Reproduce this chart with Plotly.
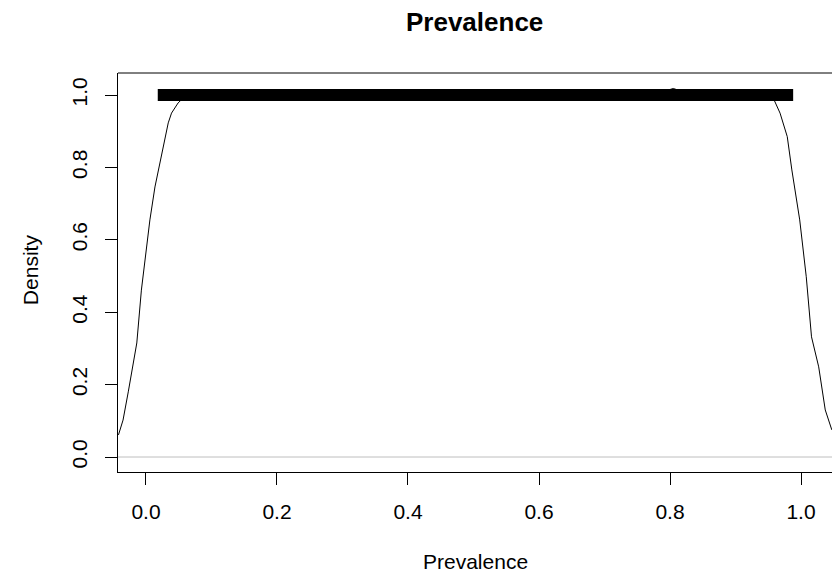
import plotly.graph_objects as go

# Density curve of Prevalence
curve_x = [-0.042, -0.035, -0.027, -0.019, -0.014, -0.007, -0.0015, 0.006, 0.0137, 0.019,
           0.026, 0.034, 0.039, 0.049, 0.057, 0.07, 0.1, 0.15, 0.2, 0.3, 0.4, 0.5, 0.6,
           0.7, 0.78, 0.805, 0.83, 0.9, 0.94, 0.959, 0.968, 0.979, 0.986, 0.998, 1.008,
           1.016, 1.027, 1.037, 1.047]
curve_y = [0.061, 0.102, 0.18, 0.268, 0.315, 0.461, 0.544, 0.655, 0.746, 0.793,
           0.856, 0.923, 0.950, 0.978, 0.992, 1.0, 1.002, 0.998, 1.001, 0.999, 1.0, 1.001, 0.998,
           1.0, 1.004, 1.018, 1.003, 0.999, 0.997, 0.986, 0.950, 0.885, 0.793, 0.655, 0.498,
           0.332, 0.249, 0.130, 0.075]

# Interval bar
interval_x = [0.018, 0.988]
interval_y = [1.0, 1.0]

x_ticks = [0.0, 0.2, 0.4, 0.6, 0.8, 1.0]
x_tick_labels = ["0.0", "0.2", "0.4", "0.6", "0.8", "1.0"]
y_ticks = [0.0, 0.2, 0.4, 0.6, 0.8, 1.0]
y_tick_labels = ["0.0", "0.2", "0.4", "0.6", "0.8", "1.0"]

FONT = "Liberation Sans, Arial, sans-serif"

fig = go.Figure()
fig.add_trace(go.Scatter(x=curve_x, y=curve_y, mode="lines",
                         line=dict(color="black", width=1), showlegend=False))
fig.add_trace(go.Scatter(x=interval_x, y=interval_y, mode="lines",
                         line=dict(color="black", width=12), showlegend=False))

fig.update_layout(
    width=832, height=573,
    margin=dict(l=118, r=0, t=73, b=101),
    paper_bgcolor="white", plot_bgcolor="white",
    font=dict(family=FONT, color="black", size=21),
    title=dict(text="<b>Prevalence</b>", x=0.5705, xanchor="center",
               y=1 - 22 / 573, yanchor="middle", yref="container",
               font=dict(size=26, family=FONT, color="black")),
    shapes=[
        dict(type="line", xref="paper", yref="y", x0=0, x1=1, y0=0, y1=0,
             line=dict(color="#bebebe", width=1), layer="below"),
        dict(type="line", xref="paper", yref="paper", x0=0, x1=1, y0=1, y1=1,
             line=dict(color="black", width=1)),
    ],
    annotations=[
        dict(text="Prevalence", xref="paper", yref="paper", x=0.5, y=-0.224,
             xanchor="center", yanchor="middle", showarrow=False,
             font=dict(size=21, family=FONT, color="black")),
        dict(text="Density", xref="paper", yref="paper", x=-0.1232, y=0.506,
             xanchor="center", yanchor="middle", textangle=-90, showarrow=False,
             font=dict(size=21, family=FONT, color="black")),
    ],
)
fig.update_xaxes(range=[-0.0427, 1.0473], showgrid=False, zeroline=False,
                 showline=True, linecolor="black", linewidth=1,
                 ticks="outside", ticklen=12, tickcolor="black", tickwidth=1,
                 tickvals=x_ticks, ticktext=x_tick_labels,
                 tickfont=dict(size=21, family=FONT, color="black"),
                 ticklabelstandoff=9)
fig.update_yaxes(range=[-0.0414, 1.0608], showgrid=False, zeroline=False,
                 showline=True, linecolor="black", linewidth=1,
                 ticks="outside", ticklen=12, tickcolor="black", tickwidth=1,
                 tickvals=y_ticks, ticktext=y_tick_labels, tickangle=-90,
                 tickfont=dict(size=21, family=FONT, color="black"),
                 ticklabelstandoff=10)

fig.write_html("out.html")
